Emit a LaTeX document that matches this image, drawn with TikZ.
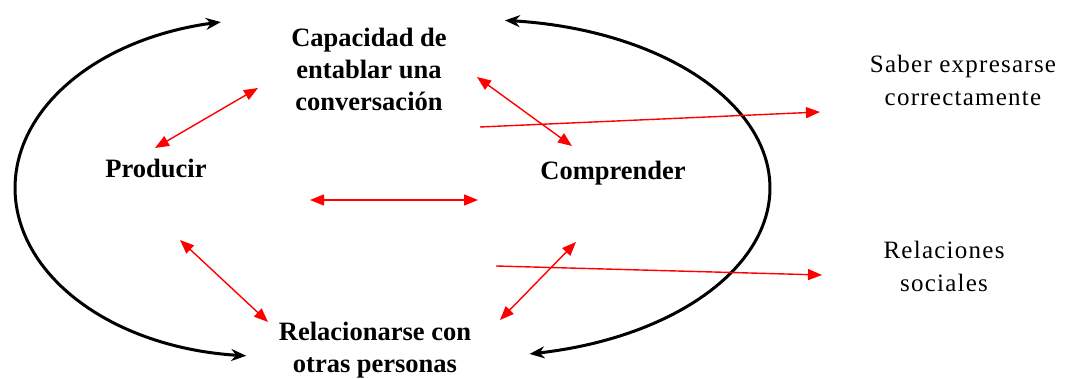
\documentclass[tikz,border=0pt]{standalone}
\usepackage{fontspec}
\setmainfont{Liberation Serif}
\usetikzlibrary{arrows.meta}
\begin{document}
\begin{tikzpicture}[x=1pt,y=-1pt,
  boldlbl/.style={font=\fontsize{26.5}{32}\selectfont\bfseries, align=center, inner sep=0pt},
  plainlbl/.style={font=\fontsize{25}{33}\selectfont\addfontfeatures{LetterSpace=5}, align=center, inner sep=0pt},
  redarrow/.style={draw=red, line width=1.4pt, {Triangle[length=14pt,width=11pt]}-{Triangle[length=14pt,width=11pt]}},
  redone/.style={draw=red, line width=1.4pt, -{Triangle[length=14pt,width=11pt]}},
  loopline/.style={draw=black, line width=3pt, {Stealth[length=15pt,width=12pt]}-{Stealth[length=15pt,width=12pt]}}
]
\path[use as bounding box, fill=white] (0,0) rectangle (1072,379);

\node[boldlbl] (cap) at (369,69) {Capacidad de\\entablar una\\conversación};
\node[boldlbl] (prod) at (156,168) {Producir};
\node[boldlbl] (comp) at (613,173) {Comprender};
\node[boldlbl] (rel) at (375,350) {Relacionarse con\\otras personas};
\node[plainlbl] (saber) at (963,80) {Saber expresarse\\correctamente};
\node[plainlbl] (relsoc) at (944,266) {Relaciones\\sociales};

% black loops
\draw[loopline] plot[domain=93:261, samples=90] ({259+244*cos(\x)},{188+168*sin(\x)});
\draw[loopline] plot[domain=-86:81, samples=90] ({485+285*cos(\x)},{188+168*sin(\x)});

% red connectors
\coordinate (pc1) at (155,148); \coordinate (pc2) at (258,88);
\coordinate (cc1) at (477,77);  \coordinate (cc2) at (572,146);
\coordinate (h1) at (310,200);  \coordinate (h2) at (478,200);
\coordinate (pr1) at (180,240); \coordinate (pr2) at (268,322);
\coordinate (rc1) at (500,320); \coordinate (rc2) at (576,242);
\coordinate (s1) at (480,127);  \coordinate (s2) at (820,112);
\coordinate (r1) at (496,266);  \coordinate (r2) at (822,275);

\draw[redarrow] (pc1) -- (pc2);
\draw[redarrow] (cc1) -- (cc2);
\draw[redarrow] (h1) -- (h2);
\draw[redarrow] (pr1) -- (pr2);
\draw[redarrow] (rc1) -- (rc2);
\draw[redone] (s1) -- (s2);
\draw[redone] (r1) -- (r2);
\end{tikzpicture}
\end{document}
